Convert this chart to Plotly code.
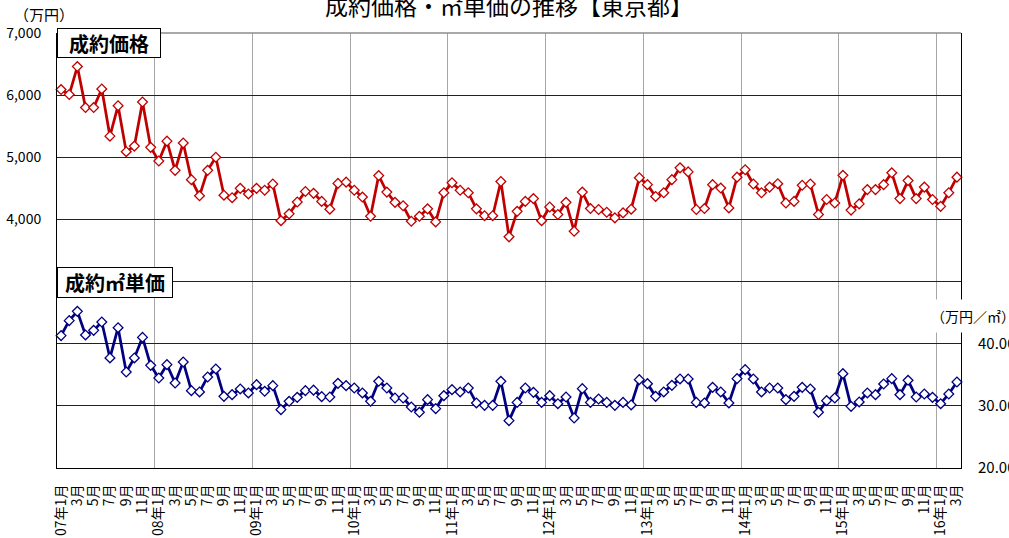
import plotly.graph_objects as go

# 2007年1月〜2016年3月 (111か月)
years = list(range(2007, 2017))
months_per_year = [12] * 9 + [3]

month_labels = []
for y, n in zip(years, months_per_year):
    for m in range(1, n + 1):
        month_labels.append(f"{y % 100:02d}年{m}月" if m == 1 else f"{m}月")

# 成約価格（万円）
price = [
    6090, 6010, 6460, 5800, 5800, 6100, 5340, 5830, 5090, 5180, 5890, 5160,
    4940, 5260, 4790, 5230, 4640, 4380, 4790, 5000, 4390, 4350, 4500, 4410,
    4500, 4470, 4570, 3980, 4090, 4280, 4450, 4420, 4290, 4165, 4580, 4600,
    4470, 4360, 4050, 4705, 4440, 4275, 4220, 3970, 4050, 4170, 3960, 4430,
    4590, 4470, 4430, 4170, 4060, 4060, 4610, 3720, 4130, 4290, 4335, 3980,
    4200, 4080, 4275, 3810, 4440, 4175, 4160, 4115, 4025, 4105, 4165, 4670,
    4560, 4370, 4430, 4640, 4830, 4765, 4160, 4175, 4560, 4505, 4185, 4680,
    4800, 4570, 4430, 4520, 4575, 4265, 4290, 4550, 4570, 4080, 4320, 4265,
    4710, 4150, 4250, 4480, 4480, 4560, 4750, 4335, 4625, 4335, 4520, 4320,
    4210, 4430, 4680,
]

# 成約㎡単価（万円/㎡）
unit_price = [
    41.30, 43.71, 45.21, 41.41, 42.15, 43.50, 37.71, 42.58, 35.45, 37.71, 41.02, 36.52,
    34.49, 36.63, 33.68, 37.06, 32.45, 32.24, 34.65, 35.94, 31.53, 31.80, 32.72, 32.08,
    33.41, 32.34, 33.25, 29.39, 30.73, 31.37, 32.45, 32.53, 31.48, 31.43, 33.62, 33.25,
    32.88, 32.08, 30.73, 33.95, 32.88, 31.27, 31.27, 29.82, 28.96, 31.00, 29.55, 31.64,
    32.61, 32.24, 32.88, 30.47, 30.08, 30.08, 33.95, 27.62, 30.56, 32.88, 32.17, 30.56,
    31.64, 30.35, 31.43, 28.05, 32.77, 30.56, 31.11, 30.56, 30.08, 30.56, 30.15, 34.22,
    33.57, 31.53, 32.24, 33.30, 34.33, 34.33, 30.56, 30.47, 32.98, 32.24, 30.47, 34.38,
    35.83, 34.33, 32.24, 32.88, 32.88, 31.00, 31.53, 32.98, 32.72, 28.96, 30.84, 31.27,
    35.18, 29.92, 30.63, 32.08, 31.80, 33.52, 34.38, 31.80, 34.11, 31.43, 31.91, 31.37,
    30.35, 31.91, 33.84,
]

price_ticks = [0, 1000, 2000, 3000, 4000, 5000, 6000, 7000]
price_ticktext = ["", "", "", "", "4,000", "5,000", "6,000", "7,000"]
unit_ticks = [20, 30, 40]
unit_ticktext = ["20.00", "30.00", "40.00"]

FONT = "Noto Sans CJK JP"
W, H = 1009, 538
L, R, T, B = 56.7, 48.3, 33.3, 69.7
plot_w, plot_h = W - L - R, H - T - B

x = list(range(len(month_labels)))
RED = "#C00000"
NAVY = "#000080"

fig = go.Figure()
fig.add_trace(go.Scatter(
    x=x, y=price, mode="lines+markers", yaxis="y",
    line=dict(color=RED, width=2.75),
    marker=dict(symbol="diamond", size=7.5, color="white", line=dict(color=RED, width=1.3)),
    showlegend=False, cliponaxis=False,
))
fig.add_trace(go.Scatter(
    x=x, y=unit_price, mode="lines+markers", yaxis="y2",
    line=dict(color=NAVY, width=2.75),
    marker=dict(symbol="diamond", size=7.5, color="white", line=dict(color=NAVY, width=1.3)),
    showlegend=False, cliponaxis=False,
))

def px_x(px):
    return (px - L) / plot_w

def px_y(py):
    return (H - B - py) / plot_h

fig.update_layout(
    width=W, height=H,
    margin=dict(l=L, r=R, t=T, b=B, pad=0, autoexpand=False),
    paper_bgcolor="white", plot_bgcolor="white",
    font=dict(family=FONT, color="black", size=14),
    xaxis=dict(
        range=[-0.5, len(x) - 0.5], automargin=False,
        tickmode="array", tickvals=x[::2], ticktext=month_labels[::2],
        tickangle=-90, tickfont=dict(size=14, family=FONT),
        ticks="", ticklabelstandoff=10,
        showgrid=False, zeroline=False,
        showline=True, linecolor="black", linewidth=1,
        minor=dict(tickmode="linear", tick0=-0.5, dtick=12, showgrid=True,
                   gridcolor="#A6A6A6", gridwidth=1, ticks=""),
    ),
    yaxis=dict(
        range=[0, 7000], automargin=False,
        tickmode="array", tickvals=price_ticks, ticktext=price_ticktext,
        showgrid=True, gridcolor="#222222", gridwidth=1, zeroline=False,
        showline=True, linecolor="black", linewidth=1,
        ticks="", ticklabelstandoff=12, tickfont=dict(size=14, family=FONT),
    ),
    yaxis2=dict(
        range=[20, 90], overlaying="y", side="right", automargin=False,
        tickmode="array", tickvals=unit_ticks, ticktext=unit_ticktext,
        showgrid=False, zeroline=False,
        showline=True, linecolor="black", linewidth=1,
        ticks="", ticklabelstandoff=13, tickfont=dict(size=15, family=FONT),
    ),
    shapes=[
        dict(type="line", xref="paper", yref="paper", x0=0, x1=1, y0=1, y1=1,
             line=dict(color="#8C8C8C", width=1.5), layer="above"),
    ],
)

annotations = [
    # 表題
    dict(text="成約価格・㎡単価の推移【東京都】", x=px_x(509), y=px_y(5),
         xanchor="center", yanchor="middle", font=dict(size=23, family=FONT)),
    # 単位
    dict(text="（万円）", x=px_x(44), y=px_y(15), xanchor="center", yanchor="middle",
         font=dict(size=15, family=FONT), height=15, borderpad=0),
    dict(text="（万円／㎡）", x=px_x(930), y=px_y(316), xanchor="left", yanchor="middle",
         font=dict(size=14, family=FONT), bgcolor="white", height=32, borderpad=0),
    # 系列名ボックス
    dict(text="<b>成約価格</b>", x=px_x(56.7), y=px_y(28.3), xanchor="left", yanchor="top",
         width=102, height=28, borderpad=0, bgcolor="white", bordercolor="black", borderwidth=1,
         font=dict(size=20, family=FONT)),
    dict(text="<b>成約㎡単価</b>", x=px_x(56.7), y=px_y(267.3), xanchor="left", yanchor="top",
         width=114, height=29, borderpad=0, bgcolor="white", bordercolor="black", borderwidth=1,
         font=dict(size=20, family=FONT)),
]
for a in annotations:
    a.update(xref="paper", yref="paper", showarrow=False)
fig.update_layout(annotations=annotations)

fig.write_html("out.html")
